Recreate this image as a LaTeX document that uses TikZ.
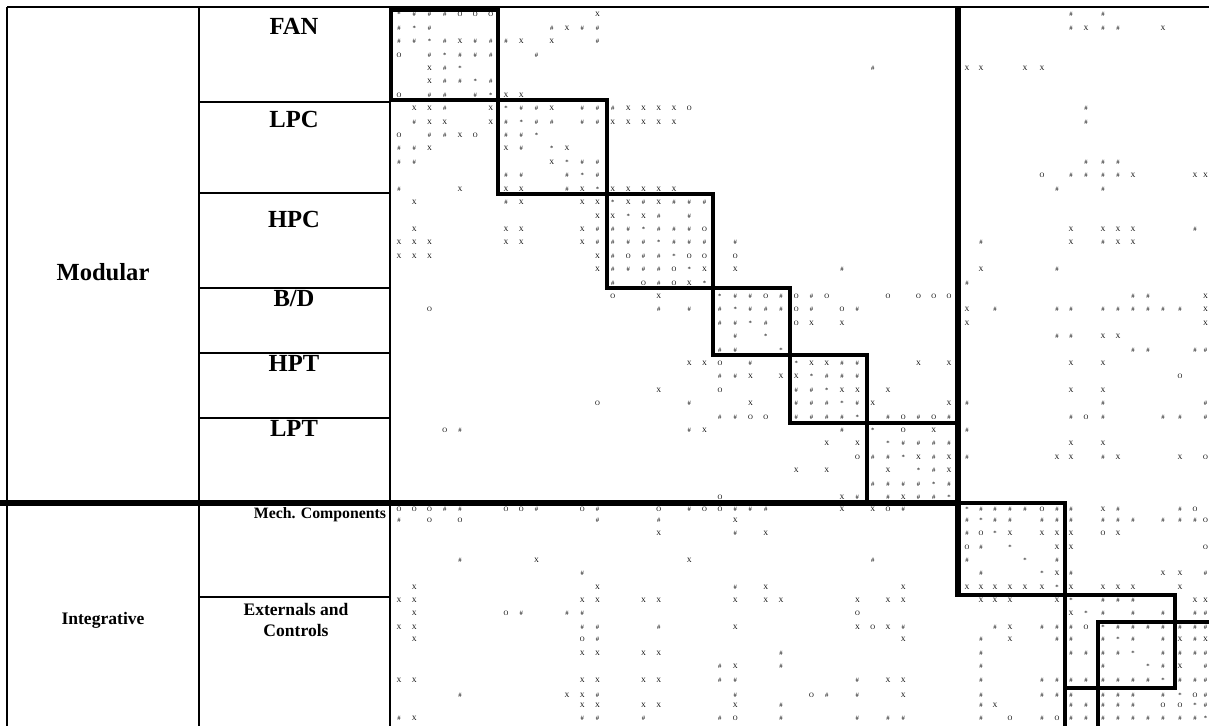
\documentclass[tikz,border=0pt]{standalone}
\usepackage{fontspec}
\setmainfont{Liberation Serif}
\usepackage{tikz}
\usetikzlibrary{positioning}

\tikzset{
  mk/.style={anchor=base,inner sep=0pt,font=\fontsize{3.8}{4}\selectfont},
  lbl/.style={anchor=base,inner sep=0pt,font=\fontsize{14}{16}\selectfont\bfseries},
  grp/.style={inner sep=0pt,font=\fontsize{10}{12}\selectfont\bfseries,align=center},
  tabline/.style={line width=1.5pt},
  blockline/.style={line width=2.6pt},
  sepline/.style={line width=3.1pt}
}

% column and row positions of the matrix cells
\def\colx{{399,414.3,429.6,444.8,460.1,475.4,490.7,506,521.2,536.5,551.8,567.1,582.4,597.6,612.9,628.2,643.5,658.8,674,689.3,704.6,719.9,735.2,750.4,765.7,781,796.3,811.6,826.8,842.1,857.4,872.7,888,903.2,918.5,933.8,949.1,967,981,995,1010,1025,1042,1057,1071,1086,1103,1118,1133,1148,1163,1180,1195,1205.5}}
\def\rowy{{15,28.4,41.8,55.2,68.6,82,95.4,108.8,122.2,135.6,149,162.4,175.8,189.2,202.6,216,229.4,242.8,256.2,269.6,283,296.4,309.8,323.2,336.6,350,363.4,376.8,390.2,403.6,417,430.4,443.8,457.2,470.6,484,497.4,509,520,533.5,547,560,573.5,587,600,613,627,639,653,666,680,695,705,718}}

% s = *, h = #, x = X, o = O
\def\dsms{*}
\def\dsmh{\#}
\def\dsmx{X}
\def\dsmo{O}
\newcommand{\dsmrow}[2]{%
  \foreach \c/\s in {#2}{%
    \pgfmathsetmacro{\xx}{\colx[\c-1]}%
    \pgfmathsetmacro{\yy}{\rowy[#1-1]+2}%
    \node[mk] (m#1-\c) at (\xx,\yy) {\csname dsm\s\endcsname};}}

\begin{document}
\begin{tikzpicture}[x=0.02cm,y=-0.02cm]
\useasboundingbox (0,0) rectangle (1209,726);
\clip (0,0) rectangle (1209,726);

% table
\draw[tabline] (7,7) -- (1209,7);
\draw[tabline] (7,7) -- (7,726);
\draw[tabline] (199,7) -- (199,726);
\draw[tabline] (390,7) -- (390,726);
\foreach \ly in {102,193,288,353,418,597}
  \draw[tabline] (199,\ly) -- (390,\ly);

% labels
\node[lbl] (fan) at (294,35) {FAN};
\node[lbl] (lpc) at (294,128) {LPC};
\node[lbl] (hpc) at (294,227) {HPC};
\node[lbl] (bd) at (294,306) {B/D};
\node[lbl] (hpt) at (294,371) {HPT};
\node[lbl] (lpt) at (294,436) {LPT};
\node[lbl] (modular) at (103,280) {Modular};
\node[grp,font=\fontsize{9}{11}\selectfont\bfseries] (mech) at (320,515) {Mech. Components};
\node[grp] (ext) at (296,620) {Externals and\\Controls};
\node[grp] (integ) at (103,620) {Integrative};

% modules
\draw[sepline] (0,503) -- (958,503);
\draw[sepline] (958,7) -- (958,597);
\draw[blockline] (391,10) rectangle (498,100);
\draw[blockline] (498,100) rectangle (607,194);
\draw[blockline] (607,194) rectangle (713,288);
\draw[blockline] (713,288) rectangle (790,355);
\draw[blockline] (790,355) rectangle (867,423);
\draw[blockline] (867,423) rectangle (958,503);
\draw[blockline] (958,503) rectangle (1065,595);
\draw[blockline] (1065,595) rectangle (1175,688);
\draw[blockline] (1065,688) -- (1065,726);
\draw[blockline] (1098,726) -- (1098,622) -- (1209,622);

% matrix entries
\dsmrow{1}{1/s,2/h,3/h,4/h,5/o,6/o,7/o,14/x,45/h,47/h}
\dsmrow{2}{1/h,2/s,3/h,11/h,12/x,13/h,14/h,45/h,46/x,47/h,48/h,51/x}
\dsmrow{3}{1/h,2/h,3/s,4/h,5/x,6/h,7/h,8/h,9/x,11/x,14/h}
\dsmrow{4}{1/o,3/h,4/s,5/h,6/h,7/h,10/h}
\dsmrow{5}{3/x,4/h,5/s,32/h,38/x,39/x,42/x,43/x}
\dsmrow{6}{3/x,4/h,5/h,6/s,7/h}
\dsmrow{7}{1/o,3/h,4/h,6/h,7/s,8/x,9/x}
\dsmrow{8}{2/x,3/x,4/h,7/x,8/s,9/h,10/h,11/x,13/h,14/h,15/h,16/x,17/x,18/x,19/x,20/o,46/h}
\dsmrow{9}{2/h,3/x,4/x,7/x,8/h,9/s,10/h,11/h,13/h,14/h,15/x,16/x,17/x,18/x,19/x,46/h}
\dsmrow{10}{1/o,3/h,4/h,5/x,6/o,8/h,9/h,10/s}
\dsmrow{11}{1/h,2/h,3/x,8/x,9/h,11/s,12/x}
\dsmrow{12}{1/h,2/h,11/x,12/s,13/h,14/h,46/h,47/h,48/h}
\dsmrow{13}{8/h,9/h,12/h,13/s,14/h,43/o,45/h,46/h,47/h,48/h,49/x,53/x,54/x}
\dsmrow{14}{1/h,5/x,8/x,9/x,12/h,13/x,14/s,15/x,16/x,17/x,18/x,19/x,44/h,47/h}
\dsmrow{15}{2/x,8/h,9/x,13/x,14/x,15/s,16/x,17/h,18/x,19/h,20/h,21/h}
\dsmrow{16}{14/x,15/x,16/s,17/x,18/h,20/h}
\dsmrow{17}{2/x,8/x,9/x,13/x,14/h,15/h,16/h,17/s,18/h,19/h,20/h,21/o,45/x,47/x,48/x,49/x,53/h}
\dsmrow{18}{1/x,2/x,3/x,8/x,9/x,13/x,14/h,15/h,16/h,17/h,18/s,19/h,20/h,21/h,23/h,39/h,45/x,47/h,48/x,49/x}
\dsmrow{19}{1/x,2/x,3/x,14/x,15/h,16/o,17/h,18/h,19/s,20/o,21/o,23/o}
\dsmrow{20}{14/x,15/h,16/h,17/h,18/h,19/o,20/s,21/x,23/x,30/h,39/x,44/h}
\dsmrow{21}{15/h,17/o,18/h,19/o,20/x,21/s,38/h}
\dsmrow{22}{15/o,18/x,22/s,23/h,24/h,25/o,26/h,27/o,28/h,29/o,33/o,35/o,36/o,37/o,49/h,50/h,54/x}
\dsmrow{23}{3/o,18/h,20/h,22/h,23/s,24/h,25/h,26/h,27/o,28/h,30/o,31/h,38/x,40/h,44/h,45/h,47/h,48/h,49/h,50/h,51/h,52/h,54/x}
\dsmrow{24}{22/h,23/h,24/s,25/h,27/o,28/x,30/x,38/x,54/x}
\dsmrow{25}{23/h,25/s,44/h,45/h,47/x,48/x}
\dsmrow{26}{22/h,23/h,26/s,49/h,50/h,53/h,54/h}
\dsmrow{27}{20/x,21/x,22/o,24/h,27/s,28/x,29/x,30/h,31/h,35/x,37/x,45/x,47/x}
\dsmrow{28}{22/h,23/h,24/x,26/x,27/x,28/s,29/h,30/h,31/h,52/o}
\dsmrow{29}{18/x,22/o,27/h,28/h,29/s,30/x,31/x,33/x,45/x,47/x}
\dsmrow{30}{14/o,20/h,24/x,27/h,28/h,29/h,30/s,31/h,32/x,37/x,38/h,47/h,54/h}
\dsmrow{31}{22/h,23/h,24/o,25/o,27/h,28/h,29/h,30/h,31/s,33/h,34/o,35/h,36/o,37/h,45/h,46/o,47/h,51/h,52/h,54/h}
\dsmrow{32}{4/o,5/h,20/h,21/x,30/h,32/s,34/o,36/x,38/h}
\dsmrow{33}{29/x,31/x,33/s,34/h,35/h,36/h,37/h,45/x,47/x}
\dsmrow{34}{31/o,32/h,33/h,34/s,35/x,36/h,37/x,38/h,44/x,45/x,47/h,48/x,52/x,54/o}
\dsmrow{35}{27/x,29/x,33/x,35/s,36/h,37/x}
\dsmrow{36}{32/h,33/h,34/h,35/h,36/s,37/h}
\dsmrow{37}{22/o,30/x,31/h,33/h,34/x,35/h,36/h,37/s}
\dsmrow{38}{1/o,2/o,3/o,4/h,5/h,8/o,9/o,10/h,13/o,14/h,18/o,20/h,21/o,22/o,23/h,24/h,25/h,30/x,32/x,33/o,34/h,38/s,39/h,40/h,41/h,42/h,43/o,44/h,45/h,47/x,48/h,52/h,53/o}
\dsmrow{39}{1/h,3/o,5/o,14/h,18/h,23/x,38/h,39/s,40/h,41/h,43/h,44/h,45/h,47/h,48/h,49/h,51/h,52/h,53/h,54/o}
\dsmrow{40}{18/x,23/h,25/x,38/h,39/o,40/s,41/x,43/x,44/x,45/x,47/o,48/x}
\dsmrow{41}{38/o,39/h,41/s,44/x,45/x,54/o}
\dsmrow{42}{5/h,10/x,20/x,32/h,38/h,42/s,44/h}
\dsmrow{43}{13/h,39/h,43/s,44/x,45/h,51/x,52/x,54/h}
\dsmrow{44}{2/x,14/x,23/h,25/x,34/x,38/x,39/x,40/x,41/x,42/x,43/x,44/s,45/x,47/x,48/x,49/x,52/x}
\dsmrow{45}{1/x,2/x,13/x,14/x,17/x,18/x,23/x,25/x,26/x,31/x,33/x,34/x,39/x,40/x,41/x,44/x,45/s,47/h,48/h,49/h,53/x,54/x}
\dsmrow{46}{2/x,8/o,9/h,12/h,13/h,31/o,45/x,46/s,47/h,49/h,51/h,53/h,54/h}
\dsmrow{47}{1/x,2/x,13/h,14/h,18/h,23/x,31/x,32/o,33/x,34/h,40/h,41/x,43/h,44/h,45/h,46/o,47/s,48/h,49/h,50/h,51/h,52/h,53/h,54/h}
\dsmrow{48}{2/x,13/o,14/h,34/x,39/h,41/x,44/h,45/h,47/h,48/s,49/h,51/h,52/x,53/h,54/x}
\dsmrow{49}{13/x,14/x,17/x,18/x,26/h,39/h,45/h,46/h,47/h,48/h,49/s,51/h,52/h,53/h,54/h}
\dsmrow{50}{22/h,23/x,26/h,39/h,47/h,50/s,51/h,52/x,54/h}
\dsmrow{51}{1/x,2/x,13/x,14/x,17/x,18/x,22/h,23/h,31/h,33/x,34/x,39/h,43/h,44/h,45/h,46/h,47/h,48/h,49/h,50/h,51/s,52/h,53/h,54/h}
\dsmrow{52}{5/h,12/x,13/x,14/h,23/h,28/o,29/h,31/h,34/x,39/h,43/h,44/h,45/h,47/h,48/h,49/h,51/h,52/s,53/o,54/h}
\dsmrow{53}{13/x,14/x,17/x,18/x,23/x,26/h,39/h,40/x,45/h,46/h,47/h,48/h,49/h,51/o,52/o,53/s,54/h}
\dsmrow{54}{1/h,2/x,13/h,14/h,17/h,22/h,23/o,26/h,31/h,33/h,34/h,39/h,41/o,43/h,44/o,45/h,46/h,47/h,48/h,49/h,50/h,51/h,52/h,53/h,54/s}
\end{tikzpicture}
\end{document}
